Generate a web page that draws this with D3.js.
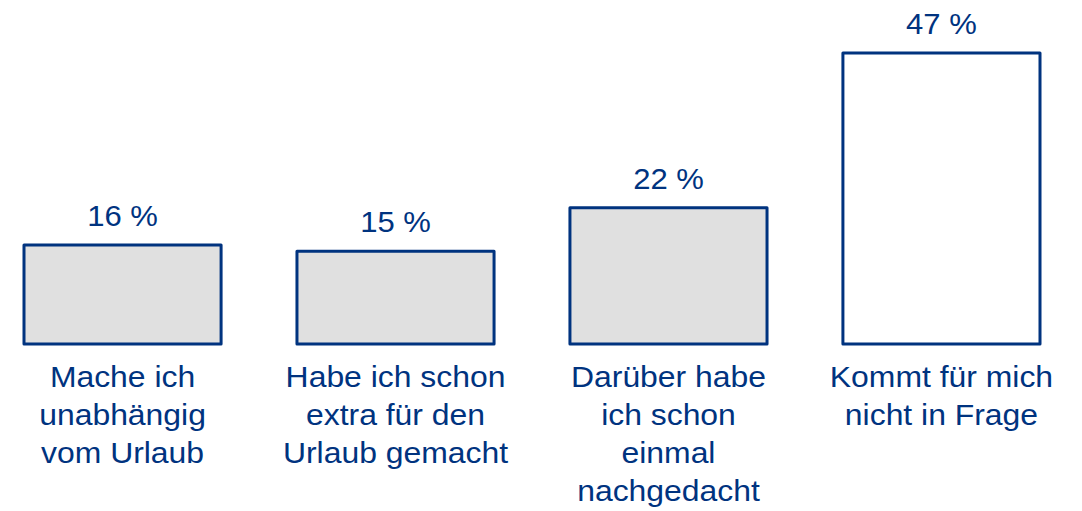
<!DOCTYPE html>
<html>
<head>
<meta charset="utf-8">
<script src="https://cdn.jsdelivr.net/npm/d3@7"></script>
<style>
  html, body { margin: 0; padding: 0; background: #ffffff; }
  #chart { width: 1082px; height: 511px; }
  text { font-family: Arial, "Liberation Sans", sans-serif; }
</style>
</head>
<body>
<div id="chart"></div>
<script>
var categories = ['urlaub-egal', 'extra', 'nachgedacht', 'nicht'];
var values = [16, 15, 22, 47];
var categoryLabels = [
    ['Mache ich', 'unabhängig', 'vom Urlaub'],
    ['Habe ich schon', 'extra für den', 'Urlaub gemacht'],
    ['Darüber habe', 'ich schon', 'einmal', 'nachgedacht'],
    ['Kommt für mich', 'nicht in Frage']
];
var fills = ['#e0e0e0', '#e0e0e0', '#e0e0e0', '#ffffff'];

var BLUE = '#00337f';
var width = 1082, height = 511;
var baseY = 344;

var svg = d3.select('#chart').append('svg')
    .attr('width', width)
    .attr('height', height);

var x = d3.scaleBand()
    .domain(categories)
    .range([24, 1040])
    .paddingInner(0.278)
    .paddingOuter(0);

var y = d3.scaleLinear()
    .domain([0, 47])
    .range([baseY, 53]);

var bars = svg.selectAll('.bar')
    .data(categories)
    .enter()
    .append('g')
    .attr('class', 'bar');

bars.append('rect')
    .attr('x', function (d) { return x(d); })
    .attr('y', function (d, i) { return y(values[i]); })
    .attr('width', x.bandwidth())
    .attr('height', function (d, i) { return baseY - y(values[i]); })
    .attr('fill', function (d, i) { return fills[i]; })
    .attr('stroke', BLUE)
    .attr('stroke-width', 3)
    .attr('stroke-linejoin', 'round');

// value labels above the bars
bars.append('text')
    .attr('transform', function (d, i) {
        return 'translate(' + (x(d) + x.bandwidth() / 2) + ',' + (y(values[i]) - 19) + ') scale(1.07,1)';
    })
    .attr('text-anchor', 'middle')
    .attr('font-size', 29)
    .attr('fill', BLUE)
    .text(function (d, i) { return values[i] + ' %'; });

// category labels below
bars.each(function (d, i) {
    var g = d3.select(this);
    var cx = x(d) + x.bandwidth() / 2;
    categoryLabels[i].forEach(function (line, j) {
        g.append('text')
            .attr('transform', 'translate(' + cx + ',' + (387 + j * 38) + ') scale(1.1,1)')
            .attr('text-anchor', 'middle')
            .attr('font-size', 29)
            .attr('fill', BLUE)
            .text(line);
    });
});
</script>
</body>
</html>
